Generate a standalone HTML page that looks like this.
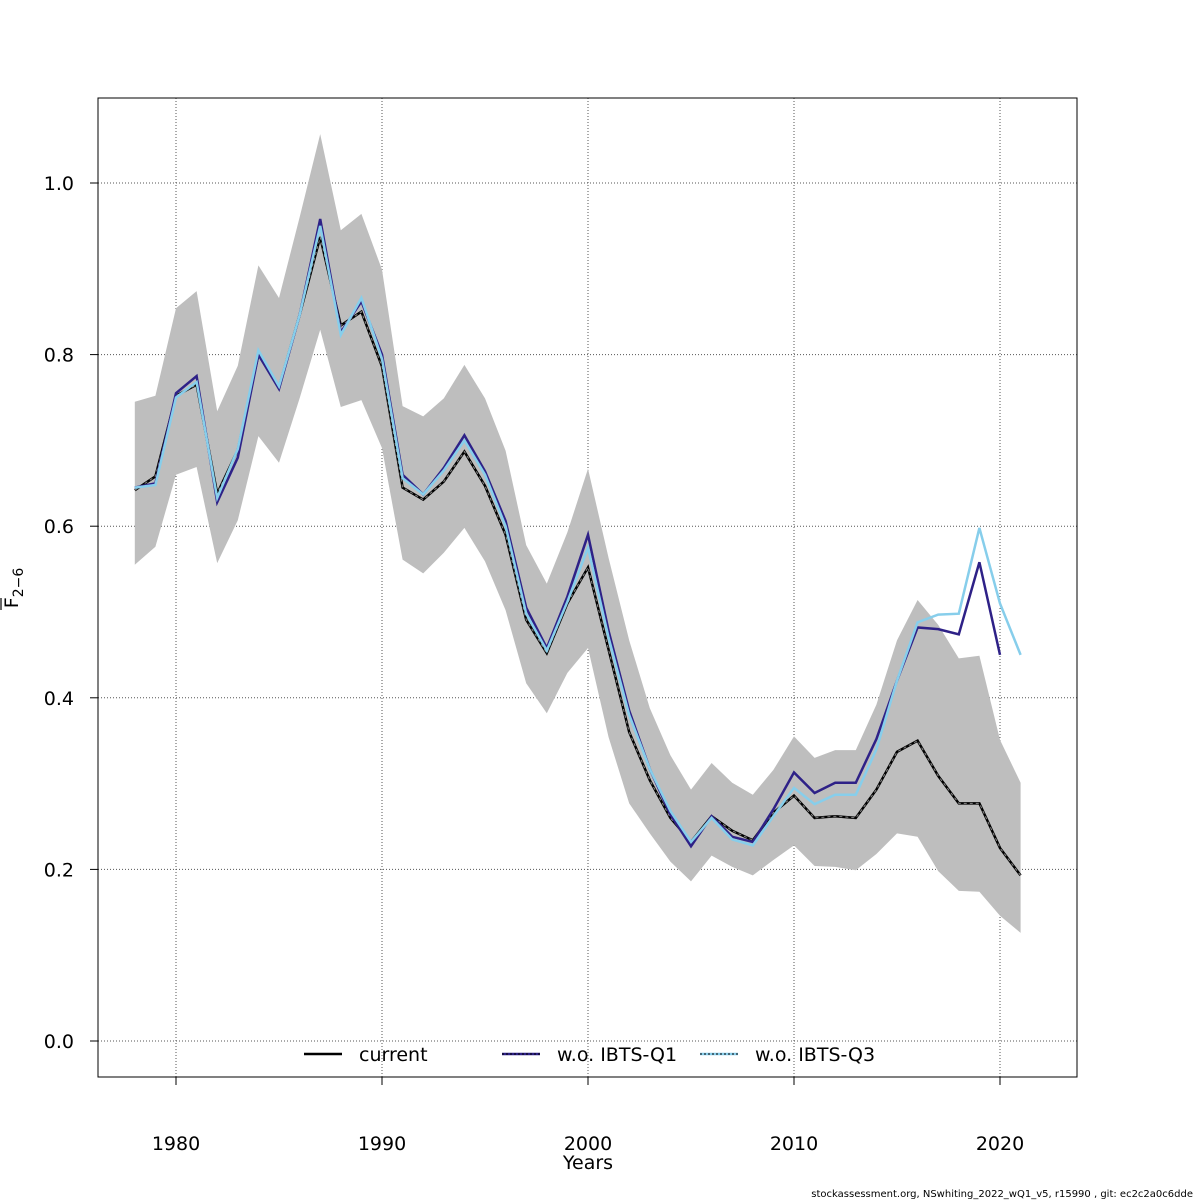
<!DOCTYPE html>
<html><head><meta charset="utf-8"><style>
body{margin:0;background:#fff}
svg{display:block;font-family:"DejaVu Sans","Liberation Sans",sans-serif}
</style></head><body>
<svg id="chart" width="1200" height="1200" viewBox="0 0 1200 1200">
<g id="grid"></g>
<g id="band"></g>
<g id="lines"></g>
<rect x="98" y="98" width="979" height="979" fill="none" stroke="#000" stroke-width="1"/>
<g id="axes"></g>
<text x="588" y="1169" font-size="19" text-anchor="middle">Years</text>
<g transform="translate(18,588) rotate(-90)">
<text x="0" y="0" font-size="19" text-anchor="middle">F<tspan font-size="14" dy="5">2−6</tspan></text>
<line x1="-22" y1="-17" x2="-10" y2="-17" stroke="#000" stroke-width="1.2" transform="translate(0,0)"/>
</g>
<g>
<g><line x1="304" y1="1054" x2="342" y2="1054" stroke="#000" stroke-width="2.5"/><text x="359" y="1061" font-size="19">current</text></g>
<g><line x1="502" y1="1054" x2="540" y2="1054" stroke="#2e2187" stroke-width="2.5"/><line x1="502" y1="1054" x2="540" y2="1054" stroke="#000" stroke-width="1" stroke-dasharray="2,2"/><text x="557" y="1061" font-size="19">w.o. IBTS-Q1</text></g>
<g><line x1="700" y1="1054" x2="738" y2="1054" stroke="#87ceeb" stroke-width="2.5"/><line x1="700" y1="1054" x2="738" y2="1054" stroke="#000" stroke-width="1" stroke-dasharray="2,2"/><text x="755" y="1061" font-size="19">w.o. IBTS-Q3</text></g>
</g>
<text x="1193" y="1197" font-size="10" text-anchor="end">stockassessment.org, NSwhiting_2022_wQ1_v5, r15990 , git: ec2c2a0c6dde</text>
</svg>
<script>
const years=[1978,1979,1980,1981,1982,1983,1984,1985,1986,1987,1988,1989,1990,1991,1992,1993,1994,1995,1996,1997,1998,1999,2000,2001,2002,2003,2004,2005,2006,2007,2008,2009,2010,2011,2012,2013,2014,2015,2016,2017,2018,2019,2020,2021];
const current=[0.642,0.658,0.752,0.765,0.638,0.689,0.80,0.762,0.846,0.937,0.834,0.850,0.786,0.645,0.631,0.652,0.687,0.647,0.590,0.491,0.452,0.510,0.552,0.456,0.360,0.304,0.26,0.232,0.262,0.245,0.234,0.266,0.286,0.26,0.262,0.26,0.293,0.337,0.35,0.309,0.277,0.277,0.225,0.193];
const upper=[0.745,0.752,0.854,0.874,0.734,0.787,0.904,0.866,0.96,1.057,0.945,0.964,0.899,0.74,0.728,0.749,0.788,0.749,0.688,0.578,0.533,0.593,0.667,0.563,0.467,0.388,0.333,0.293,0.324,0.301,0.287,0.316,0.355,0.33,0.339,0.339,0.392,0.467,0.514,0.485,0.446,0.449,0.351,0.301];
const lower=[0.555,0.576,0.66,0.669,0.557,0.607,0.705,0.674,0.749,0.829,0.739,0.747,0.691,0.561,0.545,0.569,0.598,0.559,0.502,0.417,0.382,0.429,0.458,0.354,0.277,0.242,0.209,0.186,0.216,0.203,0.193,0.211,0.228,0.204,0.203,0.199,0.218,0.242,0.238,0.198,0.175,0.174,0.146,0.126];
const woQ1=[0.645,0.650,0.755,0.775,0.628,0.680,0.800,0.760,0.846,0.958,0.826,0.862,0.80,0.660,0.637,0.668,0.706,0.664,0.606,0.505,0.458,0.518,0.590,0.478,0.385,0.317,0.264,0.227,0.262,0.238,0.232,0.270,0.313,0.289,0.301,0.301,0.352,0.420,0.482,0.480,0.474,0.558,0.450];
const woQ3=[0.645,0.648,0.75,0.768,0.633,0.69,0.805,0.763,0.846,0.95,0.823,0.866,0.795,0.656,0.637,0.665,0.700,0.660,0.600,0.498,0.455,0.512,0.575,0.470,0.380,0.317,0.268,0.232,0.260,0.235,0.228,0.262,0.295,0.276,0.287,0.287,0.340,0.420,0.488,0.497,0.498,0.598,0.510,0.450];
const xTicks=[1980,1990,2000,2010,2020];
const yTicks=[0.0,0.2,0.4,0.6,0.8,1.0];
const yTickLabels=["0.0","0.2","0.4","0.6","0.8","1.0"];

const NS="http://www.w3.org/2000/svg";
const X=v=>176+(v-1980)*20.6;
const Y=v=>1041-v*858;
function mk(tag,attrs,parent){const e=document.createElementNS(NS,tag);for(const k in attrs)e.setAttribute(k,attrs[k]);parent.appendChild(e);return e;}
const grid=document.getElementById('grid'),axes=document.getElementById('axes'),band=document.getElementById('band'),lines=document.getElementById('lines');
xTicks.forEach(t=>{
 const g=mk('line',{x1:X(t),x2:X(t),y1:98,y2:1077,stroke:'#555','stroke-width':1,'stroke-dasharray':'1,2'},grid);
 
 
 const tk=mk('line',{x1:X(t),x2:X(t),y1:1077,y2:1085,stroke:'#000'},axes);
 
 
 const tx=mk('text',{x:X(t),y:1150,'font-size':19,'text-anchor':'middle'},axes);tx.textContent=t;
 
 
});
yTicks.forEach((t,i)=>{
 const g=mk('line',{x1:98,x2:1077,y1:Y(t),y2:Y(t),stroke:'#555','stroke-width':1,'stroke-dasharray':'1,2'},grid);
 
 
 const tk=mk('line',{x1:90,x2:98,y1:Y(t),y2:Y(t),stroke:'#000'},axes);
 
 
 const tx=mk('text',{x:74,y:Y(t)+7,'font-size':19,'text-anchor':'end'},axes);tx.textContent=yTickLabels[i];
 
 
});
let d='';
years.forEach((yr,i)=>{d+=(i?'L':'M')+X(yr)+','+Y(upper[i]);});
for(let i=years.length-1;i>=0;i--)d+='L'+X(years[i])+','+Y(lower[i]);
const bp=mk('path',{d:d+'Z',fill:'#bebebe',stroke:'none'},band);


function pts(arr){return arr.map((v,i)=>X(years[i])+','+Y(v)).join(' ');}
const l1=mk('polyline',{points:pts(current),fill:'none',stroke:'#000','stroke-width':2.5},lines);


const l1b=mk('polyline',{points:pts(current),fill:'none',stroke:'#888','stroke-width':1,'stroke-dasharray':'3,3'},lines);


const l2=mk('polyline',{points:pts(woQ1),fill:'none',stroke:'#2e2187','stroke-width':2.5},lines);


const l3=mk('polyline',{points:pts(woQ3),fill:'none',stroke:'#87ceeb','stroke-width':2.5},lines);


</script>
</body></html>
